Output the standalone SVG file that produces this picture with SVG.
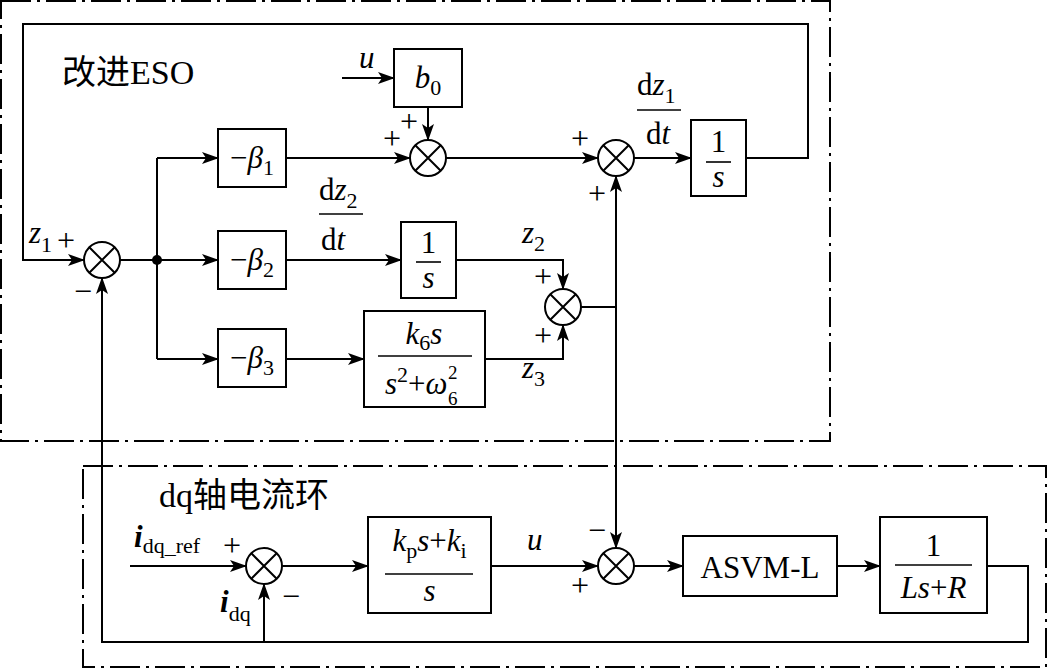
<svg xmlns="http://www.w3.org/2000/svg" width="1050" height="669" viewBox="0 0 1050 669">
  <style>
    text { font-family: "Liberation Serif", "Noto Sans CJK SC", serif; font-size: 31px; fill: #000; }
    .it { font-style: italic; }
    .sub { font-size: 22px; }
    .sml { font-size: 19px; }
    .title { font-size: 34px; }
    .sgn { font-size: 32px; text-anchor: middle; }
    .frame { fill: none; stroke: #000; stroke-width: 2; stroke-dasharray: 30 6 3 6; }
    .blk { fill: #fff; stroke: #000; stroke-width: 2; }
    .bar { stroke: #000; stroke-width: 1.6; }
    .wire { fill: none; stroke: #000; stroke-width: 2; }
    .arr { marker-end: url(#head); }
    .sum circle { fill: #fff; stroke: #000; stroke-width: 2; }
    .sum path { stroke: #000; stroke-width: 2; fill: none; }
  </style>
  <defs>
    <marker id="head" markerUnits="userSpaceOnUse" markerWidth="17" markerHeight="12" refX="16" refY="6" orient="auto">
      <path d="M0,0 L17,6 L0,12 L4,6 z" fill="#000"/>
    </marker>
  </defs>
  <rect width="1050" height="669" fill="#fff"/>

  <!-- dash-dot frames -->
  <rect class="frame" x="1" y="1" width="829" height="440"/>
  <rect class="frame" x="83" y="466" width="963" height="201"/>
  <text class="title" x="62" y="84">改进ESO</text>
  <text class="title" x="159" y="507">dq轴电流环</text>

  <!-- connectors -->
  <g id="connectors">
    <path class="wire" d="M746,158 H808 V24 H23 V260 H84" marker-end="url(#head)"/>
    <path class="wire arr" d="M120,260 H218"/>
    <path class="wire" d="M157,158 V359"/>
    <path class="wire arr" d="M157,158 H218"/>
    <path class="wire arr" d="M157,359 H218"/>
    <circle cx="157" cy="260" r="5" fill="#000"/>
    <path class="wire arr" d="M286,158 H410"/>
    <path class="wire arr" d="M342,78 H394"/>
    <path class="wire arr" d="M428,107 V140"/>
    <path class="wire arr" d="M446,158 H598"/>
    <path class="wire arr" d="M634,158 H691"/>
    <path class="wire arr" d="M286,260 H401"/>
    <path class="wire arr" d="M286,359 H364"/>
    <path class="wire arr" d="M456,260 H563 V289"/>
    <path class="wire arr" d="M485,359 H563 V325"/>
    <path class="wire" d="M581,307 H616"/>
    <path class="wire arr" d="M616,307 V176"/>
    <path class="wire arr" d="M616,307 V548"/>
    <path class="wire arr" d="M130,566 H246"/>
    <path class="wire arr" d="M282,566 H368"/>
    <path class="wire arr" d="M491,566 H598"/>
    <path class="wire arr" d="M634,566 H683"/>
    <path class="wire arr" d="M837,566 H880"/>
    <path class="wire arr" d="M987,566 H1028 V642 H102 V278"/>
    <path class="wire arr" d="M264,642 V584"/>
  </g>

  <!-- summing junctions -->
  <g id="sum-z1" class="sum" transform="translate(102,260)">
    <circle r="18"/><path d="M-12.7,-12.7 L12.7,12.7 M-12.7,12.7 L12.7,-12.7"/>
  </g>
  <g id="sum-b0" class="sum" transform="translate(428,158)">
    <circle r="18"/><path d="M-12.7,-12.7 L12.7,12.7 M-12.7,12.7 L12.7,-12.7"/>
  </g>
  <g id="sum-dz1" class="sum" transform="translate(616,158)">
    <circle r="18"/><path d="M-12.7,-12.7 L12.7,12.7 M-12.7,12.7 L12.7,-12.7"/>
  </g>
  <g id="sum-z23" class="sum" transform="translate(563,307)">
    <circle r="18"/><path d="M-12.7,-12.7 L12.7,12.7 M-12.7,12.7 L12.7,-12.7"/>
  </g>
  <g id="sum-err" class="sum" transform="translate(264,566)">
    <circle r="18"/><path d="M-12.7,-12.7 L12.7,12.7 M-12.7,12.7 L12.7,-12.7"/>
  </g>
  <g id="sum-u" class="sum" transform="translate(616,566)">
    <circle r="18"/><path d="M-12.7,-12.7 L12.7,12.7 M-12.7,12.7 L12.7,-12.7"/>
  </g>

  <!-- signs -->
  <g id="signs">
    <text class="sgn" x="409" y="132">+</text>
    <text class="sgn" x="392" y="149">+</text>
    <text class="sgn" x="580" y="149">+</text>
    <text class="sgn" x="597" y="204">+</text>
    <text class="sgn" x="543" y="287">+</text>
    <text class="sgn" x="543" y="346">+</text>
    <text class="sgn" x="66" y="251">+</text>
    <text class="sgn" x="83" y="302">−</text>
    <text class="sgn" x="232" y="556">+</text>
    <text class="sgn" x="291" y="607">−</text>
    <text class="sgn" x="597" y="541">−</text>
    <text class="sgn" x="580" y="596">+</text>
  </g>

  <!-- signal labels -->
  <g id="labels">
    <text class="it" x="29" y="243">z<tspan class="sub" font-style="normal" dy="9">1</tspan></text>
    <text class="it" x="359" y="68">u</text>
    <text x="637" y="95">d<tspan class="it">z</tspan><tspan class="sub" dy="8">1</tspan></text>
    <line class="bar" x1="637" y1="110" x2="681" y2="110"/>
    <text x="646" y="144">d<tspan class="it">t</tspan></text>
    <text x="319" y="200">d<tspan class="it">z</tspan><tspan class="sub" dy="8">2</tspan></text>
    <line class="bar" x1="319" y1="214" x2="363" y2="214"/>
    <text x="321" y="250">d<tspan class="it">t</tspan></text>
    <text class="it" x="522" y="243">z<tspan class="sub" font-style="normal" dy="8">2</tspan></text>
    <text class="it" x="522" y="378">z<tspan class="sub" font-style="normal" dy="8">3</tspan></text>
    <text x="134" y="547" font-weight="bold" font-style="italic">i<tspan class="sub" font-weight="normal" font-style="normal" dy="6">dq_ref</tspan></text>
    <text x="220" y="612" font-weight="bold" font-style="italic">i<tspan class="sub" font-weight="normal" font-style="normal" dy="9">dq</tspan></text>
    <text class="it" x="527" y="550">u</text>
  </g>

  <!-- blocks -->
  <g id="beta1">
    <rect class="blk" x="218" y="129" width="68" height="58"/>
    <text x="252" y="168" text-anchor="middle">−<tspan class="it">β</tspan><tspan class="sub" dy="7">1</tspan></text>
  </g>
  <g id="beta2">
    <rect class="blk" x="218" y="231" width="68" height="58"/>
    <text x="252" y="270" text-anchor="middle">−<tspan class="it">β</tspan><tspan class="sub" dy="7">2</tspan></text>
  </g>
  <g id="beta3">
    <rect class="blk" x="218" y="329" width="68" height="58"/>
    <text x="252" y="368" text-anchor="middle">−<tspan class="it">β</tspan><tspan class="sub" dy="7">3</tspan></text>
  </g>
  <g id="b0">
    <rect class="blk" x="394" y="49" width="68" height="58"/>
    <text x="428" y="88" text-anchor="middle"><tspan class="it">b</tspan><tspan class="sub" dy="7">0</tspan></text>
  </g>
  <g id="int1">
    <rect class="blk" x="691" y="120" width="55" height="76"/>
    <text x="718.5" y="152" text-anchor="middle">1</text>
    <line class="bar" x1="706" y1="162" x2="731" y2="162"/>
    <text class="it" x="718.5" y="187" text-anchor="middle">s</text>
  </g>
  <g id="int2">
    <rect class="blk" x="401" y="222" width="55" height="76"/>
    <text x="428.5" y="253" text-anchor="middle">1</text>
    <line class="bar" x1="416" y1="262" x2="441" y2="262"/>
    <text class="it" x="428.5" y="288" text-anchor="middle">s</text>
  </g>
  <g id="resonant">
    <rect class="blk" x="364" y="311" width="121" height="96"/>
    <text x="424" y="344" text-anchor="middle"><tspan class="it">k</tspan><tspan class="sub" dy="6">6</tspan><tspan class="it" dy="-6">s</tspan></text>
    <line class="bar" x1="378" y1="356" x2="472" y2="356"/>
    <text x="385" y="394"><tspan class="it">s</tspan><tspan class="sub" dy="-12">2</tspan><tspan dy="12">+</tspan><tspan class="it">ω</tspan></text>
    <text class="sml" x="448" y="379">2</text>
    <text class="sml" x="448" y="405">6</text>
  </g>
  <g id="pi">
    <rect class="blk" x="368" y="517" width="123" height="96"/>
    <text x="429.5" y="551" text-anchor="middle"><tspan class="it">k</tspan><tspan class="sub" dy="7">p</tspan><tspan class="it" dy="-7">s</tspan>+<tspan class="it">k</tspan><tspan class="sub" dy="7">i</tspan></text>
    <line class="bar" x1="385" y1="574" x2="473" y2="574"/>
    <text class="it" x="429.5" y="601" text-anchor="middle">s</text>
  </g>
  <g id="asvm">
    <rect class="blk" x="683" y="536" width="154" height="60"/>
    <text x="760" y="578" text-anchor="middle" font-size="35">ASVM-L</text>
  </g>
  <g id="plant">
    <rect class="blk" x="880" y="517" width="107" height="96"/>
    <text x="933.5" y="556" text-anchor="middle">1</text>
    <line class="bar" x1="895" y1="565" x2="972" y2="565"/>
    <text x="933.5" y="598" text-anchor="middle"><tspan class="it">Ls</tspan>+<tspan class="it">R</tspan></text>
  </g>
</svg>
